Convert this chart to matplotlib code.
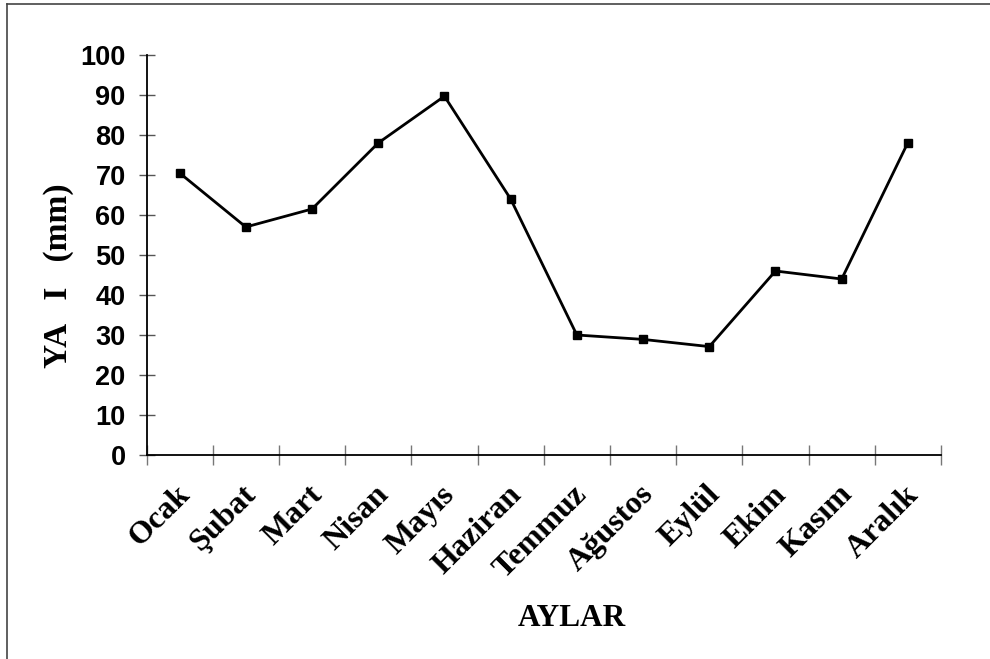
import matplotlib
matplotlib.use("Agg")
import matplotlib.pyplot as plt
from matplotlib.lines import Line2D
from matplotlib.transforms import ScaledTranslation

months = ["Ocak", "Şubat", "Mart", "Nisan", "Mayıs", "Haziran",
          "Temmuz", "Ağustos", "Eylül", "Ekim", "Kasım", "Aralık"]
rainfall_mm = [70.5, 57.0, 61.5, 78.0, 89.7, 64.0,
               30.0, 28.9, 27.1, 46.0, 44.0, 78.1]
y_ticks = [0, 10, 20, 30, 40, 50, 60, 70, 80, 90, 100]

fig = plt.figure(figsize=(9.9, 6.59), dpi=100)
ax = fig.add_axes([146.5 / 990, 1 - 455 / 659, (941 - 146.5) / 990, 400 / 659])

x = list(range(len(months)))
ax.plot(x, rainfall_mm, color="black", linewidth=2.0,
        marker="s", markersize=5.5, markerfacecolor="black",
        markeredgecolor="black")

ax.set_xlim(-0.5, len(months) - 0.5)
ax.set_ylim(0, 100)

for side in ("top", "right"):
    ax.spines[side].set_visible(False)
for side in ("left", "bottom"):
    ax.spines[side].set_color("black")
    ax.spines[side].set_linewidth(1.3)

ax.set_yticks(y_ticks)
ax.set_yticklabels([str(v) for v in y_ticks], fontfamily="Liberation Sans",
                   fontweight="bold", fontsize=19.5)
ax.tick_params(axis="y", direction="inout", length=12, width=1,
               color="#555555", pad=9)

ax.set_xticks([i - 0.5 for i in range(len(months) + 1)])
ax.set_xticklabels([])
ax.tick_params(axis="x", direction="inout", length=14, width=1,
               color="#777777")

# Month names, rotated, placed under each point
offset = ScaledTranslation(-4 / 100, -25 / 100, fig.dpi_scale_trans)
for i, name in enumerate(months):
    ax.text(i, 0, name, transform=ax.get_xaxis_transform() + offset,
            rotation=45, rotation_mode="anchor", ha="right", va="top",
            fontfamily="Liberation Serif", fontweight="bold", fontsize=23)

fig.text(58 / 990, 1 - 276 / 659, "YA   I   (mm)", rotation=90,
         ha="center", va="center", fontfamily="Liberation Serif",
         fontweight="bold", fontsize=24)
fig.text(572 / 990, 1 - 619 / 659, "AYLAR", ha="center", va="center",
         fontfamily="Liberation Serif", fontweight="bold", fontsize=22.5)

# Frame lines along the top and left edges
fig.add_artist(Line2D([6.5 / 990, 1.0], [1 - 3.5 / 659, 1 - 3.5 / 659],
                      transform=fig.transFigure, color="#444444", linewidth=1.2))
fig.add_artist(Line2D([6.5 / 990, 6.5 / 990], [1 - 3.5 / 659, 0.0],
                      transform=fig.transFigure, color="#444444", linewidth=1.2))

fig.savefig("out.png", dpi=100, facecolor="white")
